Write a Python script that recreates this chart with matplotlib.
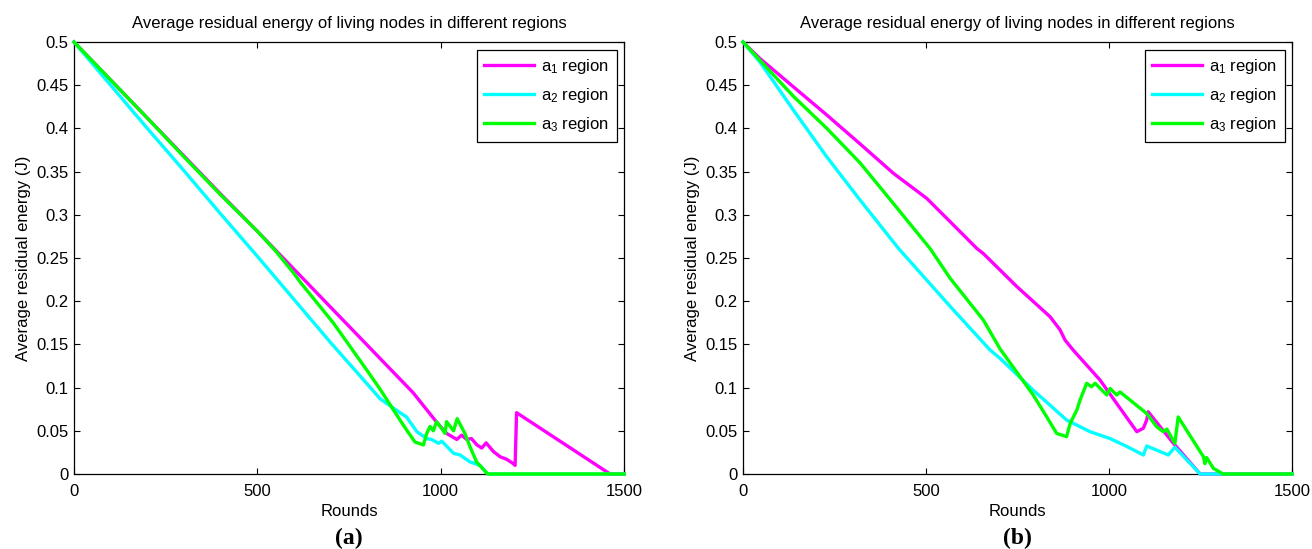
# ===== IMPORTS =====
import matplotlib
matplotlib.use('Agg')
import matplotlib.pyplot as plt


# ===== STYLE =====
plt.rcParams['font.family'] = ['Liberation Sans', 'DejaVu Sans']
plt.rcParams['mathtext.fontset'] = 'custom'
plt.rcParams['mathtext.rm'] = 'Liberation Sans'
plt.rcParams['mathtext.it'] = 'Liberation Sans:italic'
plt.rcParams['mathtext.default'] = 'regular'

COLORS = ['#ff00ff', '#00ffff', '#00ff00']
LABELS = ['a$_1$ region', 'a$_2$ region', 'a$_3$ region']

TITLE = 'Average residual energy of living nodes in different regions'
XTICKS = [0, 500, 1000, 1500]
YTICKS = [0, 0.05, 0.1, 0.15, 0.2, 0.25, 0.3, 0.35, 0.4, 0.45, 0.5]
YTICK_LABELS = ['0', '0.05', '0.1', '0.15', '0.2', '0.25', '0.3', '0.35', '0.4', '0.45', '0.5']


# ===== DATA (a) =====
a_r1 = [0, 100, 200, 300, 400, 500, 600, 700, 800, 925, 989, 1016, 1044, 1057, 1071,
		1084, 1098, 1112, 1124, 1144, 1162, 1180, 1198, 1203, 1207, 1462, 1500]
a_e1 = [0.5, 0.456, 0.412, 0.368, 0.324, 0.281, 0.237, 0.193, 0.149, 0.094, 0.060, 0.047, 0.040, 0.045, 0.040,
		0.041, 0.034, 0.030, 0.036, 0.026, 0.020, 0.017, 0.012, 0.010, 0.071, 0.0, 0.0]

a_r2 = [0, 100, 200, 300, 400, 500, 600, 700, 800, 835, 889, 907, 935, 962, 975, 994,
		1003, 1035, 1053, 1080, 1107, 1129, 1500]
a_e2 = [0.5, 0.450, 0.400, 0.351, 0.301, 0.252, 0.202, 0.152, 0.104, 0.087, 0.071, 0.066, 0.049, 0.041, 0.040, 0.0355,
		0.038, 0.024, 0.022, 0.014, 0.010, 0.0, 0.0]

a_r3 = [0, 100, 200, 300, 400, 500, 550, 600, 616, 707, 799, 835, 889, 907, 930, 953, 962,
		971, 980, 989, 1012, 1016, 1035, 1045, 1066, 1080, 1098, 1128, 1500]
a_e3 = [0.5, 0.456, 0.412, 0.367, 0.323, 0.281, 0.258, 0.232, 0.2226, 0.175, 0.120, 0.098, 0.0625, 0.051, 0.037, 0.0336, 0.047,
		0.055, 0.050, 0.0606, 0.047, 0.0606, 0.050, 0.064, 0.047, 0.0316, 0.014, 0.0, 0.0]

# ===== DATA (b) =====
b_r1 = [0, 46, 138, 229, 320, 411, 502, 566, 639, 657, 748, 839, 866, 880, 902, 975,
		1076, 1094, 1103, 1107, 1176, 1249, 1500]
b_e1 = [0.5, 0.481, 0.448, 0.4155, 0.382, 0.348, 0.319, 0.292, 0.261, 0.255, 0.217, 0.182, 0.167, 0.155, 0.1435, 0.109,
		0.049, 0.053, 0.0625, 0.072, 0.0355, 0.0, 0.0]

b_r2 = [0, 46, 138, 229, 320, 425, 566, 675, 702, 793, 884, 948, 1003, 1048, 1094,
		1103, 1162, 1180, 1249, 1500]
b_e2 = [0.5, 0.477, 0.421, 0.367, 0.317, 0.261, 0.194, 0.1435, 0.134, 0.097, 0.0625, 0.049, 0.041, 0.032, 0.022,
		0.0324, 0.022, 0.031, 0.0, 0.0]

b_r3 = [0, 46, 138, 229, 320, 411, 511, 566, 657, 702, 793, 830, 857, 884, 894, 912,
		921, 939, 952, 962, 994, 1003, 1021, 1030, 1103, 1130, 1148, 1158, 1180, 1189,
		1258, 1262, 1267, 1285, 1312, 1500]
b_e3 = [0.5, 0.479, 0.437, 0.400, 0.360, 0.313, 0.261, 0.2265, 0.178, 0.145, 0.0914, 0.066, 0.047, 0.0432, 0.0587, 0.074,
		0.0856, 0.105, 0.101, 0.105, 0.0914, 0.099, 0.0914, 0.095, 0.070, 0.0548, 0.049, 0.052, 0.0355, 0.066,
		0.020, 0.012, 0.019, 0.0066, 0.0, 0.0]


# ===== PLOT HELPER =====
def draw_panel(ax, series, tag):
	for (r, e), c, lab in zip(series, COLORS, LABELS):
		ax.plot(r, e, color=c, lw=2.4, label=lab, clip_on=False, zorder=3)

	ax.set_xlim(0, 1500)
	ax.set_ylim(0, 0.5)
	ax.set_xticks(XTICKS)
	ax.set_xticklabels([str(t) for t in XTICKS])
	ax.set_yticks(YTICKS)
	ax.set_yticklabels(YTICK_LABELS)
	ax.tick_params(direction='in', top=True, right=True, length=4.5, width=0.8,
				   labelsize=12, colors='black')
	ax.tick_params(axis='x', pad=7.5)
	ax.tick_params(axis='y', pad=4)
	for s in ax.spines.values():
		s.set_linewidth(0.9)
		s.set_color('black')

	ax.set_title(TITLE, fontsize=12, pad=10)
	ax.set_xlabel('Rounds', fontsize=12, labelpad=3)
	ax.set_ylabel('Average residual energy (J)', fontsize=12, labelpad=4)

	leg = ax.legend(loc='upper right', fontsize=12, handlelength=3.0, handletextpad=0.4,
					labelspacing=0.6, borderaxespad=0.45, borderpad=0.45,
					fancybox=False, framealpha=1, edgecolor='black')
	leg.get_frame().set_linewidth(0.9)

	# panel tag under the axes
	bb = ax.get_position()
	ax.figure.text(bb.x0 + bb.width / 2, 1 - 538 / 549, tag, ha='center', va='center',
				   fontsize=17, fontweight='bold', family='Liberation Serif')


# ===== FIGURE =====
fig = plt.figure(figsize=(13.12, 5.49), dpi=100)
ax_a = fig.add_axes([74 / 1312, 75 / 549, 550 / 1312, 432 / 549])
ax_b = fig.add_axes([743 / 1312, 75 / 549, 549 / 1312, 432 / 549])

draw_panel(ax_a, [(a_r1, a_e1), (a_r2, a_e2), (a_r3, a_e3)], '(a)')
draw_panel(ax_b, [(b_r1, b_e1), (b_r2, b_e2), (b_r3, b_e3)], '(b)')

fig.savefig('out.png', dpi=100)
